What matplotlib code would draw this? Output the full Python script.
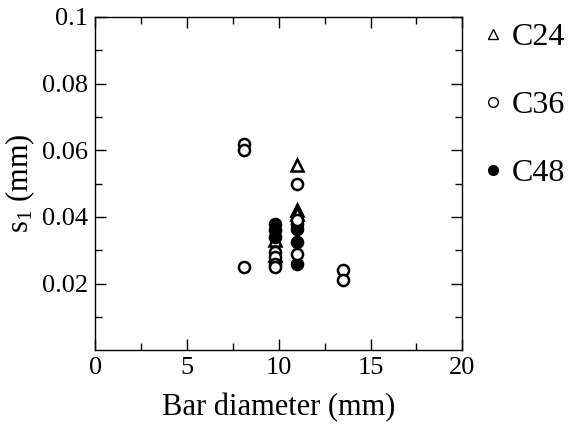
import numpy as np
import matplotlib
matplotlib.use('Agg')
import matplotlib.pyplot as plt
from matplotlib.ticker import MultipleLocator, FixedLocator
from matplotlib.lines import Line2D

# bar diameter (mm) and s1 (mm)
c24_x = [9.8, 9.8, 11.0, 11.0, 11.0]
c24_y = [0.033, 0.0285, 0.0555, 0.042, 0.041]

c36_x = [8.1, 8.1, 8.1, 9.8, 9.8, 9.8, 9.8, 11.0, 11.0, 11.0, 13.5, 13.5]
c36_y = [0.062, 0.060, 0.025, 0.0295, 0.028, 0.026, 0.025, 0.050, 0.039, 0.029, 0.024, 0.021]

c48_x = [9.8, 9.8, 9.8, 11.0, 11.0, 11.0, 11.0]
c48_y = [0.038, 0.036, 0.034, 0.038, 0.0365, 0.0325, 0.026]

labels = ['C24', 'C36', 'C48']
xticks = [0, 5, 10, 15, 20]
yticks = [0.02, 0.04, 0.06, 0.08, 0.1]
ytick_labels = ['0.02', '0.04', '0.06', '0.08', '0.1']

plt.rcParams['font.family'] = ['Liberation Serif', 'DejaVu Serif']
plt.rcParams['mathtext.fontset'] = 'custom'
plt.rcParams['mathtext.rm'] = 'Liberation Serif'
plt.rcParams['mathtext.it'] = 'Liberation Serif'

fig = plt.figure(figsize=(5.7, 4.25), dpi=100)
ax = fig.add_axes([0.167, 0.176, 0.644, 0.784])

ms = 8
ax.plot(c24_x, c24_y, '^', ms=ms, mfc='white', mec='black', mew=1.8, ls='none')
ax.plot(c48_x, c48_y, 'o', ms=ms, mfc='black', mec='black', mew=1.8, ls='none')
ax.plot(c36_x, c36_y, 'o', ms=ms, mfc='white', mec='black', mew=1.8, ls='none')

ax.set_xlim(0, 20)
ax.set_ylim(0, 0.1)
ax.set_xticks(xticks)
ax.xaxis.set_minor_locator(MultipleLocator(2.5))
ax.set_yticks(yticks)
ax.set_yticklabels(ytick_labels)
ax.yaxis.set_minor_locator(FixedLocator([0.01, 0.03, 0.05, 0.07, 0.09]))
ax.tick_params(which='both', direction='in', top=True, right=True, labelsize=19, width=1)
ax.tick_params(which='major', length=8, pad=5)
ax.tick_params(which='minor', length=5)
for s in ax.spines.values():
    s.set_linewidth(1)

ax.set_xlabel('Bar diameter (mm)', fontsize=22, labelpad=10)
ax.set_ylabel(r'$\mathrm{s_1}$ (mm)', fontsize=22, labelpad=4)

handles = [
    Line2D([], [], marker='^', ms=7, mfc='white', mec='black', mew=1.0, ls='none'),
    Line2D([], [], marker='o', ms=7, mfc='white', mec='black', mew=1.0, ls='none'),
    Line2D([], [], marker='o', ms=7, mfc='black', mec='black', mew=1.0, ls='none'),
]
leg = ax.legend(handles, labels, loc='upper left', bbox_to_anchor=(1.013, 1.03),
                frameon=False, fontsize=23, handlelength=0.6, handletextpad=0.3,
                labelspacing=1.2, borderaxespad=0.3, borderpad=0.2)

fig.savefig('out.png', dpi=100)
